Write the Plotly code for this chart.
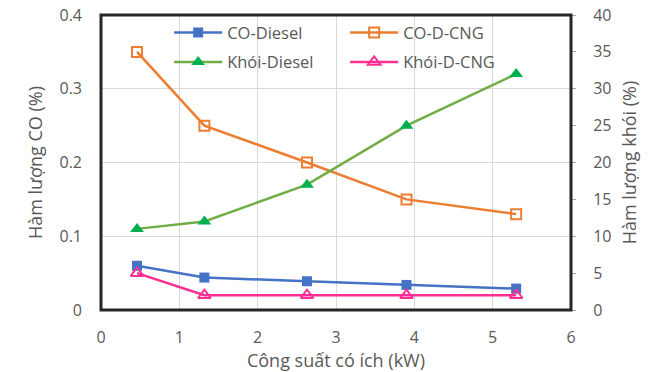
import plotly.graph_objects as go

power_kw = [0.46, 1.32, 2.63, 3.9, 5.3]
co_diesel = [0.06, 0.044, 0.039, 0.034, 0.029]
co_dcng = [0.35, 0.25, 0.20, 0.15, 0.13]
smoke_diesel = [11, 12, 17, 25, 32]
smoke_dcng = [5, 2, 2, 2, 2]

font = "Open Sans"
gray = "#595959"

fig = go.Figure()
fig.add_trace(go.Scatter(x=power_kw, y=co_diesel, name="CO-Diesel", mode="lines+markers",
                         line=dict(color="#4472C4", width=2.5),
                         marker=dict(symbol="square", size=10, color="#4472C4"),
                         legend="legend"))
fig.add_trace(go.Scatter(x=power_kw, y=co_dcng, name="CO-D-CNG", mode="lines+markers",
                         line=dict(color="#ED7D31", width=2.5),
                         marker=dict(symbol="square-open", size=10, color="#ED7D31", line=dict(width=2)),
                         legend="legend"))
fig.add_trace(go.Scatter(x=power_kw, y=smoke_diesel, name="Khói-Diesel", mode="lines+markers",
                         line=dict(color="#70AD47", width=2.5),
                         marker=dict(symbol="triangle-up", size=12, color="#00B050"),
                         yaxis="y2", legend="legend2"))
fig.add_trace(go.Scatter(x=power_kw, y=smoke_dcng, name="Khói-D-CNG", mode="lines+markers",
                         line=dict(color="#FF2E93", width=2.5),
                         marker=dict(symbol="triangle-up-open", size=11, color="#FF2E93", line=dict(width=2)),
                         yaxis="y2", legend="legend2"))

legend_common = dict(orientation="h", xanchor="left", yanchor="middle", bgcolor="rgba(255,255,255,0)",
                     font=dict(family=font, size=16.5, color=gray), entrywidth=113,
                     entrywidthmode="pixels", itemwidth=48, tracegroupgap=0)

fig.update_layout(
    width=649, height=372,
    margin=dict(l=101, r=78, t=15, b=62),
    paper_bgcolor="white", plot_bgcolor="white",
    font=dict(family=font, size=16, color=gray),
    legend=dict(x=0.145, y=0.94, **legend_common),
    legend2=dict(x=0.145, y=0.84, **legend_common),
    xaxis=dict(range=[0, 6], dtick=1, showgrid=True, gridcolor="#D9D9D9", gridwidth=1,
               zeroline=False, tickfont=dict(size=16, color=gray), ticks="", automargin=False,
               ticklabelstandoff=16,
               title=dict(text="Công suất có ích (kW)", font=dict(size=18, color=gray), standoff=0)),
    yaxis=dict(range=[0, 0.4], dtick=0.1, showgrid=True, gridcolor="#D9D9D9", gridwidth=1,
               zeroline=False, tickformat="~g", tickfont=dict(size=16, color=gray), ticks="",
               automargin=False, ticklabelstandoff=18,
               title=dict(text="Hàm lượng CO (%)", font=dict(size=18, color=gray), standoff=12)),
    yaxis2=dict(range=[0, 40], dtick=5, overlaying="y", side="right", showgrid=False,
                zeroline=False, tickfont=dict(size=16, color=gray), ticks="outside", ticklen=4,
                tickcolor="#A6A6A6", automargin=False, ticklabelstandoff=14,
                title=dict(text="Hàm lượng khói (%)", font=dict(size=18, color=gray), standoff=12)),
)

fig.add_shape(type="rect", xref="paper", yref="paper", x0=0, y0=0, x1=1, y1=1,
              line=dict(color="#262626", width=3), layer="above")

fig.write_html("out.html", config={"displayModeBar": False},
               post_script="document.body.style.margin='0px';")
